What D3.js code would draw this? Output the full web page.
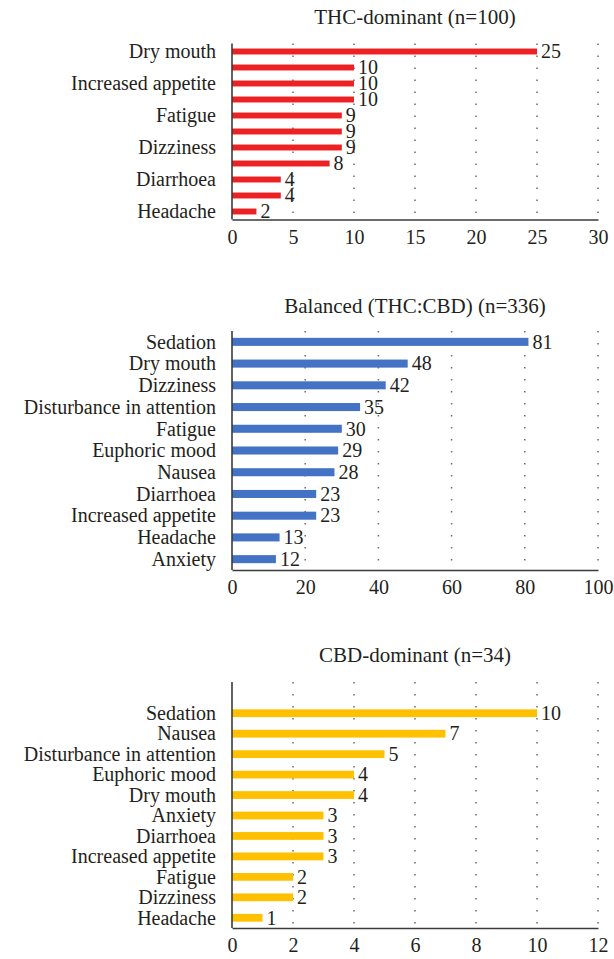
<!DOCTYPE html>
<html>
<head>
<meta charset="utf-8">
<script src="https://cdn.jsdelivr.net/npm/d3@7/dist/d3.min.js"></script>
<style>
  html, body { margin: 0; padding: 0; background: #fff; }
</style>
</head>
<body>
<svg id="chart" width="614" height="959"></svg>
<script>
// THC-dominant panel (every second label is hidden in the original axis)
const thcCategories = ["Dry mouth", "Sedation", "Increased appetite", "Euphoric mood", "Fatigue",
  "Disturbance in attention", "Dizziness", "Nausea", "Diarrhoea", "Anxiety", "Headache"];
const thcValues = [25, 10, 10, 10, 9, 9, 9, 8, 4, 4, 2];
const thcTicks = [0, 5, 10, 15, 20, 25, 30];

// Balanced panel
const balCategories = ["Sedation", "Dry mouth", "Dizziness", "Disturbance in attention", "Fatigue",
  "Euphoric mood", "Nausea", "Diarrhoea", "Increased appetite", "Headache", "Anxiety"];
const balValues = [81, 48, 42, 35, 30, 29, 28, 23, 23, 13, 12];
const balTicks = [0, 20, 40, 60, 80, 100];

// CBD-dominant panel
const cbdCategories = ["Sedation", "Nausea", "Disturbance in attention", "Euphoric mood", "Dry mouth",
  "Anxiety", "Diarrhoea", "Increased appetite", "Fatigue", "Dizziness", "Headache"];
const cbdValues = [10, 7, 5, 4, 4, 3, 3, 3, 2, 2, 1];
const cbdTicks = [0, 2, 4, 6, 8, 10, 12];

const serif = "'Liberation Serif', 'Times New Roman', serif";
const textColor = "#231f20";
const left = 232;
const right = 598;

function styleText(sel, size) {
  sel.style("font-family", serif)
    .style("font-size", size + "px")
    .style("fill", textColor);
}

function drawPanel(svg, opts) {
  const g = svg.append("g");

  const x = d3.scaleLinear()
    .domain([0, d3.max(opts.ticks)])
    .range([left, right]);

  const y = d3.scaleBand()
    .domain(opts.categories)
    .range([opts.bandTop, opts.bottom])
    .paddingInner(opts.pad)
    .paddingOuter(opts.pad / 2);

  // title
  g.append("text")
    .attr("x", (left + right) / 2)
    .attr("y", opts.titleY)
    .attr("text-anchor", "middle")
    .text(opts.title)
    .call(styleText, 21);

  // dotted vertical gridlines
  g.selectAll(".grid")
    .data(opts.ticks.slice(1))
    .enter()
    .append("line")
    .attr("class", "grid")
    .attr("x1", d => x(d))
    .attr("x2", d => x(d))
    .attr("y1", opts.top)
    .attr("y2", opts.bottom)
    .attr("stroke", "#6b6b6b")
    .attr("stroke-width", 1.5)
    .attr("stroke-dasharray", "1.5," + (opts.dotGap - 1.5));

  const data = opts.categories.map((c, i) => ({ name: c, value: opts.values[i], idx: i }));

  // bars
  g.selectAll(".bar")
    .data(data)
    .enter()
    .append("rect")
    .attr("class", "bar")
    .attr("x", x(0))
    .attr("y", d => y(d.name))
    .attr("width", d => x(d.value) - x(0))
    .attr("height", y.bandwidth())
    .attr("fill", opts.color);

  // value labels
  g.selectAll(".val")
    .data(data)
    .enter()
    .append("text")
    .attr("class", "val")
    .attr("x", d => x(d.value) + 4)
    .attr("y", d => y(d.name) + y.bandwidth() / 2)
    .attr("dy", "0.34em")
    .text(d => d.value)
    .call(styleText, 20);

  // category labels
  g.selectAll(".cat")
    .data(data.filter(d => d.idx % opts.every === 0))
    .enter()
    .append("text")
    .attr("class", "cat")
    .attr("x", left - 16)
    .attr("y", d => y(d.name) + y.bandwidth() / 2)
    .attr("dy", "0.34em")
    .attr("text-anchor", "end")
    .text(d => d.name)
    .call(styleText, 20);

  // x axis
  const xAxis = g.append("g")
    .attr("transform", `translate(0,${opts.bottom})`)
    .call(d3.axisBottom(x).tickValues(opts.ticks).tickSize(0).tickPadding(10));
  xAxis.select(".domain").attr("stroke", "#3a3a3a").attr("stroke-width", 1.6);
  xAxis.selectAll("text").call(styleText, 20);

  // y axis line
  g.append("line")
    .attr("x1", x(0))
    .attr("x2", x(0))
    .attr("y1", opts.top)
    .attr("y2", opts.bottom)
    .attr("stroke", "#3a3a3a")
    .attr("stroke-width", 1.6);
}

function drawChart() {
  const svg = d3.select("#chart");

  drawPanel(svg, {
    title: "THC-dominant (n=100)",
    categories: thcCategories,
    values: thcValues,
    ticks: thcTicks,
    color: "#ed2024",
    titleY: 24,
    top: 43.5,
    bandTop: 43.5,
    bottom: 219.5,
    pad: 0.63,
    dotGap: 12,
    every: 2
  });

  drawPanel(svg, {
    title: "Balanced (THC:CBD) (n=336)",
    categories: balCategories,
    values: balValues,
    ticks: balTicks,
    color: "#4472c4",
    titleY: 313,
    top: 331,
    bandTop: 331,
    bottom: 570,
    pad: 0.63,
    dotGap: 12,
    every: 1
  });

  drawPanel(svg, {
    title: "CBD-dominant (n=34)",
    categories: cbdCategories,
    values: cbdValues,
    ticks: cbdTicks,
    color: "#ffc000",
    titleY: 662,
    top: 682,
    bandTop: 703,
    bottom: 928,
    pad: 0.62,
    dotGap: 12,
    every: 1
  });
}

drawChart();
</script>
</body>
</html>
